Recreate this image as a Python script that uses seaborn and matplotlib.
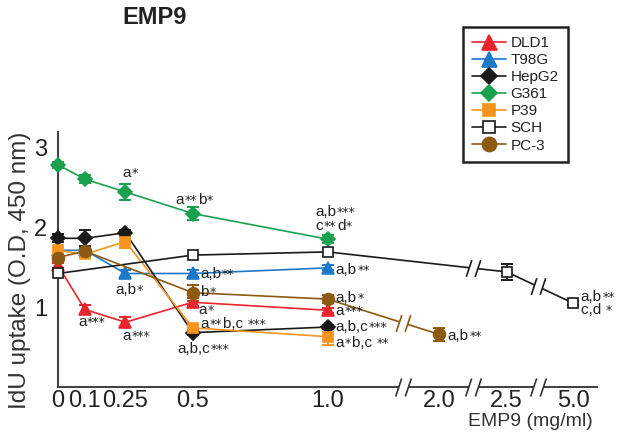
import numpy as np
import pandas as pd
import matplotlib
matplotlib.use("Agg")
import matplotlib.pyplot as plt
import seaborn as sns
from matplotlib.path import Path
from matplotlib.offsetbox import TextArea, HPacker, AnnotationBbox

# ---------------- data ----------------
dose_levels = [0, 0.1, 0.25, 0.5, 1.0, 2.0, 2.5, 5.0]
dose_labels = ["0", "0.1", "0.25", "0.5", "1.0", "2.0", "2.5", "5.0"]
# broken x-axis: position of each dose level on the drawn axis
axis_pos = [0, 0.1, 0.25, 0.5, 1.0, 1.413, 1.665, 1.911]
break_pos = [1.28, 1.54, 1.78]

lines = ["DLD1", "T98G", "HepG2", "G361", "P39", "SCH", "PC-3"]

dld1_dose = [0, 0.1, 0.25, 0.5, 1.0]
dld1_val = [1.52, 0.97, 0.81, 1.06, 0.96]
dld1_err = [0.03, 0.06, 0.06, 0.05, 0.03]

t98g_dose = [0, 0.1, 0.25, 0.5, 1.0]
t98g_val = [1.71, 1.71, 1.42, 1.42, 1.49]
t98g_err = [0.0, 0.0, 0.04, 0.04, 0.03]

hepg2_dose = [0, 0.1, 0.25, 0.5, 1.0]
hepg2_val = [1.86, 1.86, 1.93, 0.68, 0.75]
hepg2_err = [0.05, 0.1, 0.04, 0.03, 0.03]

g361_dose = [0, 0.1, 0.25, 0.5, 1.0]
g361_val = [2.78, 2.60, 2.44, 2.17, 1.85]
g361_err = [0.04, 0.05, 0.1, 0.08, 0.05]

p39_dose = [0, 0.1, 0.25, 0.5, 1.0]
p39_val = [1.71, 1.66, 1.82, 0.74, 0.63]
p39_err = [0.05, 0.05, 0.08, 0.04, 0.1]

sch_dose = [0, 0.5, 1.0, 2.5, 5.0]
sch_val = [1.42, 1.65, 1.69, 1.44, 1.05]
sch_err = [0.0, 0.0, 0.0, 0.1, 0.03]

pc3_dose = [0, 0.1, 0.5, 1.0, 2.0]
pc3_val = [1.62, 1.70, 1.18, 1.10, 0.66]
pc3_err = [0.04, 0.04, 0.1, 0.05, 0.08]

# significance annotations: (dose-position x, y, [text pieces]); "*" pieces are stars
annotations = [
    (0.238, 2.675, ["a", "*"]),
    (0.435, 2.34, ["a", "**", "b", "*"]),
    (0.955, 2.185, ["a,b", "***"]),
    (0.955, 2.015, ["c", "**", "d", "*"]),
    (0.212, 1.21, ["a,b", "*"]),
    (0.528, 1.41, ["a,b", "**"]),
    (0.528, 1.19, ["b", "*"]),
    (0.520, 0.96, ["a", "*"]),
    (0.528, 0.79, ["a", "**", "b,c ", "***"]),
    (0.442, 0.475, ["a,b,c", "***"]),
    (0.074, 0.81, ["a", "***"]),
    (0.238, 0.64, ["a", "***"]),
    (1.03, 1.46, ["a,b", "**"]),
    (1.03, 1.115, ["a,b", "*"]),
    (1.03, 0.955, ["a", "***"]),
    (1.03, 0.75, ["a,b,c", "***"]),
    (1.03, 0.55, ["a", "*", "b,c ", "**"]),
    (1.446, 0.64, ["a,b", "**"]),
    (1.94, 1.13, ["a,b", "**"]),
    (1.94, 0.96, ["c,d ", "*"]),
]

# ---------------- styling ----------------
styles = {
    "DLD1": dict(color="#e8242c", marker="^", ms=9, mfc="#e8242c"),
    "T98G": dict(color="#1e78c8", marker="^", ms=9, mfc="#1e78c8"),
    "HepG2": dict(color="#1a1a1a", marker="D", ms=7, mfc="#1a1a1a"),
    "G361": dict(color="#1aa150", marker="D", ms=7, mfc="#1aa150"),
    "P39": dict(color="#f7941d", marker="s", ms=7.5, mfc="#f7941d"),
    "SCH": dict(color="#1a1a1a", marker="s", ms=7.5, mfc="white"),
    "PC-3": dict(color="#8c5a13", marker="o", ms=8.5, mfc="#8c5a13"),
}
series = {
    "DLD1": (dld1_dose, dld1_val, dld1_err),
    "T98G": (t98g_dose, t98g_val, t98g_err),
    "HepG2": (hepg2_dose, hepg2_val, hepg2_err),
    "G361": (g361_dose, g361_val, g361_err),
    "P39": (p39_dose, p39_val, p39_err),
    "SCH": (sch_dose, sch_val, sch_err),
    "PC-3": (pc3_dose, pc3_val, pc3_err),
}

sns.set_theme(style="white")
plt.rcParams["font.family"] = ["Liberation Sans", "DejaVu Sans"]
plt.rcParams["text.color"] = "#222222"

pos_map = dict(zip(dose_levels, axis_pos))

fig = plt.figure(figsize=(6.18, 4.41), dpi=100)
ax = fig.add_axes([58 / 618, 1 - 387 / 441, (597 - 58) / 618, (387 - 132) / 441])

for name in lines:
    d, v, e = series[name]
    s = styles[name]
    df = pd.DataFrame({"pos": [pos_map[x] for x in d], "val": v})
    sns.lineplot(data=df, x="pos", y="val", ax=ax, color=s["color"],
                 marker=s["marker"], markersize=s["ms"],
                 markerfacecolor=s["mfc"], markeredgecolor=s["color"],
                 markeredgewidth=1.2, linewidth=1.2, label=name,
                 estimator=None, sort=False, clip_on=False, zorder=3)
    err = np.array(e)
    m = err > 0
    ax.errorbar(np.array(df["pos"])[m], np.array(v)[m], yerr=err[m], fmt="none",
                ecolor=s["color"], elinewidth=1.4, capsize=4, capthick=1.4,
                zorder=2.5, clip_on=False)

# break marks ("//")
slash = Path([(-2.6, -3), (-0.6, 3), (0.6, -3), (2.6, 3)],
             [Path.MOVETO, Path.LINETO, Path.MOVETO, Path.LINETO])
gap = Path([(-2.6, -3), (0.6, -3), (2.6, 3), (-0.6, 3), (-2.6, -3)],
           [Path.MOVETO, Path.LINETO, Path.LINETO, Path.LINETO, Path.CLOSEPOLY])


def draw_break(x, y, color, size=12):
    ax.plot([x], [y], marker=gap, ms=size, mfc="white", mec="none",
            linestyle="none", clip_on=False, zorder=6)
    ax.plot([x], [y], marker=slash, ms=size, mfc="none", mec=color, mew=1.2,
            linestyle="none", clip_on=False, zorder=7)


for bx in break_pos:
    draw_break(bx, 0, "#333333", size=13)

for name, bxs in [("SCH", [1.54, 1.78]), ("PC-3", [1.28])]:
    d, v, e = series[name]
    p = [pos_map[x] for x in d]
    for bx in bxs:
        draw_break(bx, float(np.interp(bx, p, v)), styles[name]["color"], size=12)

for x, y, pieces in annotations:
    kids = []
    for pc in pieces:
        if set(pc) == {"*"}:
            kids.append(TextArea(pc, textprops=dict(fontsize=9, color="#222222",
                                                    family="DejaVu Sans")))
        else:
            kids.append(TextArea(pc, textprops=dict(fontsize=11, color="#222222")))
    box = HPacker(children=kids, align="baseline", pad=0, sep=0.5)
    ab = AnnotationBbox(box, (x, y), xycoords="data", box_alignment=(0, 0.5),
                        frameon=False, pad=0, zorder=8, annotation_clip=False)
    ax.add_artist(ab)

# axes
ax.set_xlim(0, 2.0)
ax.set_ylim(0, 3.19)
ax.set_xticks(axis_pos)
ax.set_xticklabels(dose_labels)
ax.set_yticks([1, 2, 3])
ax.set_yticklabels(["1", "2", "3"])
ax.tick_params(axis="x", direction="in", length=4, color="#cccccc",
               labelsize=17, pad=2, labelcolor="#222222")
ax.tick_params(axis="y", length=0, labelsize=17, pad=8, labelcolor="#222222")
ax.set_xlabel("")
ax.set_ylabel("")
for sp in ["top", "right"]:
    ax.spines[sp].set_visible(False)
for sp in ["left", "bottom"]:
    ax.spines[sp].set_color("#444444")
    ax.spines[sp].set_linewidth(1.5)
ax.set_facecolor("none")

leg = ax.get_legend()
handles, labels = ax.get_legend_handles_labels()
if leg is not None:
    leg.remove()
fig.legend(handles, labels, loc="upper left",
           bbox_to_anchor=(463 / 618, 1 - 27 / 441), borderaxespad=0,
           fontsize=11, frameon=True, fancybox=False, edgecolor="#222222",
           handlelength=2.2, labelspacing=0.2, handletextpad=0.3,
           borderpad=0.6, markerscale=1.2, framealpha=1)
fig.legends[0].get_frame().set_linewidth(1.8)

fig.text(155 / 618, 1 - 17 / 441, "EMP9", fontsize=17, fontweight="bold",
         ha="center", va="center", color="#222222")
fig.text(593 / 618, 1 - 422 / 441, "EMP9 (mg/ml)", fontsize=14,
         ha="right", va="center", color="#333333")
fig.text(20 / 618, 1 - 270 / 441, "IdU uptake (O.D, 450 nm)", fontsize=17.5,
         rotation=90, ha="center", va="center", color="#333333")

fig.savefig("out.png", dpi=100)
